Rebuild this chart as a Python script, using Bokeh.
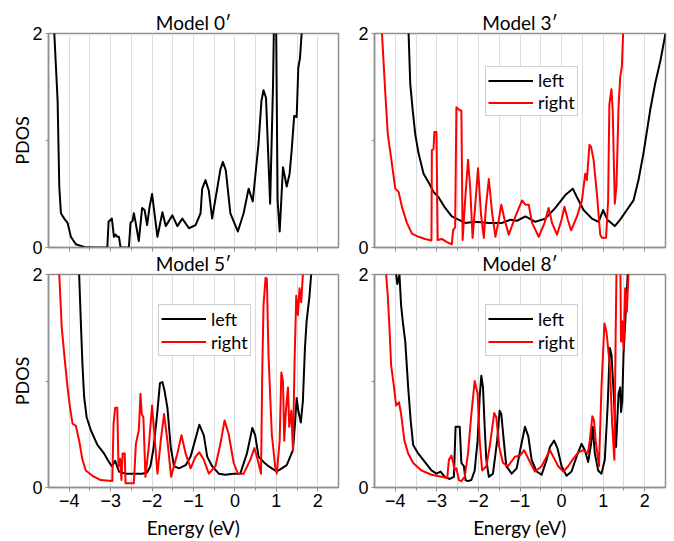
from bokeh.plotting import figure
from bokeh.layouts import column, row
from bokeh.models import FixedTicker, Legend, LegendItem, Range1d
from bokeh.embed import file_html
from bokeh.resources import INLINE

# ---------------- data (Energy in eV, PDOS) ----------------
x_major = [-4, -3, -2, -1, 0, 1, 2]
x_minor = [-3.5, -2.5, -1.5, -0.5, 0.5, 1.5]
grid_ticks = [-4, -3.5, -3, -2.5, -2, -1.5, -1, -0.5, 0, 0.5, 1, 1.5, 2]
y_major = [0, 2]
y_minor = [1]

titles = ["Model 0\u2032", "Model 3\u2032", "Model 5\u2032", "Model 8\u2032"]
series_labels = ["left", "right"]

m0_left_e = [-4.45, -4.36, -4.28, -4.24, -4.20, -4.12, -4.04, -3.96, -3.84, -3.64,
             -3.40, -3.08, -3.05, -3.00, -2.97, -2.92, -2.88, -2.84, -2.80, -2.76,
             -2.56, -2.52, -2.47, -2.44, -2.40, -2.32, -2.24, -2.18, -2.12, -2.06,
             -2.00, -1.87, -1.75, -1.67, -1.51, -1.39, -1.27, -1.11, -0.95, -0.83,
             -0.79, -0.71, -0.63, -0.55, -0.35, -0.29, -0.22, -0.11, 0.07, 0.21,
             0.33, 0.43, 0.57, 0.64, 0.69, 0.75, 0.85, 0.92, 0.95, 0.99,
             1.03, 1.08, 1.16, 1.19, 1.25, 1.32, 1.37, 1.43, 1.49, 1.53,
             1.57, 1.61, 1.65]
m0_left_pdos = [2.5, 2.0, 1.37, 0.57, 0.32, 0.27, 0.23, 0.10, 0.03, 0.005,
                0.0, 0.0, 0.24, 0.26, 0.27, 0.10, 0.12, 0.10, 0.10, 0.0,
                0.0, 0.23, 0.25, 0.32, 0.24, 0.06, 0.37, 0.35, 0.21, 0.38,
                0.50, 0.10, 0.33, 0.20, 0.30, 0.20, 0.27, 0.18, 0.21, 0.32,
                0.55, 0.63, 0.53, 0.27, 0.73, 0.80, 0.72, 0.32, 0.15, 0.32,
                0.55, 0.43, 0.97, 1.37, 1.47, 1.40, 0.41, 1.53, 2.3, 2.3,
                0.44, 0.15, 0.75, 0.69, 0.57, 0.69, 0.91, 1.23, 1.22, 1.68,
                1.77, 2.0, 2.4]

m3_left_e = [-3.72, -3.68, -3.64, -3.58, -3.52, -3.44, -3.32, -3.20, -3.08, -2.96,
             -2.80, -2.64, -2.48, -2.32, -2.08, -1.75, -1.43, -1.23, -1.07, -0.87,
             -0.63, -0.39, -0.15, 0.09, 0.27, 0.37, 0.53, 0.73, 0.89, 1.00,
             1.10, 1.28, 1.41, 1.57, 1.73, 1.85, 1.97, 2.13, 2.25, 2.38, 2.50]
m3_left_pdos = [2.4, 2.0, 1.53, 1.28, 1.06, 0.88, 0.69, 0.61, 0.52, 0.47,
                0.37, 0.29, 0.26, 0.23, 0.24, 0.23, 0.23, 0.26, 0.25, 0.29,
                0.24, 0.27, 0.37, 0.49, 0.55, 0.47, 0.35, 0.27, 0.24, 0.35,
                0.26, 0.20, 0.26, 0.35, 0.44, 0.63, 0.88, 1.28, 1.53, 1.75, 2.0]
m3_right_e = [-4.40, -4.32, -4.24, -4.18, -4.08, -4.00, -3.92, -3.84, -3.72, -3.60,
              -3.44, -3.28, -3.13, -3.12, -3.08, -3.06, -3.01, -2.98, -2.88, -2.76,
              -2.64, -2.61, -2.56, -2.53, -2.50, -2.44, -2.41, -2.38, -2.32, -2.25,
              -2.20, -2.14, -2.08, -2.01, -1.94, -1.87, -1.82, -1.75, -1.67, -1.59,
              -1.51, -1.45, -1.37, -1.27, -1.11, -0.95, -0.87, -0.79, -0.71, -0.55,
              -0.41, -0.31, -0.23, -0.11, 0.00, 0.07, 0.15, 0.23, 0.37, 0.49,
              0.57, 0.61, 0.67, 0.71, 0.77, 0.81, 0.85, 0.93, 0.97, 1.07,
              1.12, 1.15, 1.20, 1.23, 1.28, 1.32, 1.37, 1.41, 1.45, 1.48, 1.52]
m3_right_pdos = [2.4, 2.0, 1.44, 1.06, 0.78, 0.55, 0.52, 0.38, 0.23, 0.13,
                 0.10, 0.08, 0.065, 0.91, 0.92, 1.08, 1.08, 0.07, 0.08, 0.05,
                 0.03, 0.16, 0.19, 1.31, 1.30, 1.28, 1.28, 0.07, 0.44, 0.82,
                 0.57, 0.09, 0.38, 0.74, 0.32, 0.09, 0.38, 0.64, 0.32, 0.10,
                 0.26, 0.40, 0.26, 0.12, 0.29, 0.44, 0.40, 0.40, 0.23, 0.10,
                 0.23, 0.37, 0.23, 0.12, 0.26, 0.38, 0.26, 0.16, 0.29, 0.44,
                 0.69, 0.63, 0.96, 0.94, 0.82, 0.66, 0.50, 0.12, 0.09, 0.09,
                 0.44, 1.34, 1.48, 1.28, 0.41, 0.57, 1.31, 1.59, 1.69, 2.0, 2.4]

m5_left_e = [-3.80, -3.76, -3.72, -3.68, -3.64, -3.58, -3.48, -3.32, -3.16, -3.04,
             -2.97, -2.89, -2.80, -2.64, -2.44, -2.24, -2.12, -2.04, -1.96, -1.87,
             -1.81, -1.75, -1.70, -1.63, -1.55, -1.47, -1.35, -1.19, -1.07, -0.95,
             -0.86, -0.75, -0.67, -0.55, -0.39, -0.23, -0.03, 0.13, 0.29, 0.42,
             0.49, 0.57, 0.69, 0.81, 0.93, 1.01, 1.13, 1.25, 1.40, 1.45,
             1.49, 1.53, 1.59, 1.64, 1.69, 1.73, 1.80, 1.84, 1.88]
m5_left_pdos = [2.4, 2.0, 1.56, 1.15, 0.85, 0.66, 0.54, 0.40, 0.32, 0.24,
                0.20, 0.25, 0.15, 0.13, 0.13, 0.13, 0.14, 0.20, 0.38, 0.72,
                0.98, 0.99, 0.91, 0.75, 0.38, 0.20, 0.18, 0.21, 0.29, 0.46,
                0.59, 0.49, 0.29, 0.20, 0.13, 0.12, 0.13, 0.13, 0.32, 0.56,
                0.49, 0.29, 0.24, 0.20, 0.17, 0.15, 0.18, 0.21, 0.35, 0.60,
                0.84, 0.72, 0.61, 0.81, 1.31, 1.56, 1.80, 2.0, 2.4]
m5_right_e = [-4.28, -4.24, -4.18, -4.12, -4.04, -3.98, -3.92, -3.84, -3.76, -3.68,
              -3.60, -3.44, -3.24, -2.96, -2.93, -2.89, -2.84, -2.81, -2.77, -2.74,
              -2.71, -2.66, -2.64, -2.44, -2.39, -2.32, -2.28, -2.25, -2.21, -2.16,
              -2.08, -2.00, -1.94, -1.87, -1.79, -1.71, -1.63, -1.54, -1.39, -1.29,
              -1.19, -1.07, -0.95, -0.86, -0.75, -0.63, -0.47, -0.35, -0.25, -0.15,
              -0.03, 0.07, 0.21, 0.37, 0.47, 0.55, 0.63, 0.66, 0.69, 0.74,
              0.77, 0.81, 0.89, 0.97, 1.01, 1.08, 1.12, 1.16, 1.19, 1.23,
              1.28, 1.31, 1.36, 1.40, 1.44, 1.48, 1.52, 1.56, 1.60, 1.64, 1.68]
m5_right_pdos = [2.4, 2.0, 1.50, 1.25, 0.94, 0.75, 0.60, 0.58, 0.44, 0.26,
                 0.16, 0.11, 0.07, 0.06, 0.60, 0.75, 0.75, 0.20, 0.27, 0.07,
                 0.32, 0.32, 0.04, 0.04, 0.41, 0.54, 0.88, 0.69, 0.66, 0.10,
                 0.38, 0.77, 0.48, 0.13, 0.44, 0.69, 0.44, 0.10, 0.32, 0.49,
                 0.32, 0.18, 0.29, 0.33, 0.26, 0.13, 0.20, 0.41, 0.63, 0.50,
                 0.23, 0.13, 0.13, 0.26, 0.37, 0.26, 0.13, 1.09, 1.71, 1.97,
                 1.96, 1.25, 0.50, 0.20, 0.13, 0.44, 1.08, 1.00, 0.44, 0.72,
                 0.94, 0.57, 0.72, 0.35, 1.19, 1.80, 1.62, 1.87, 1.74, 2.0, 2.4]

m8_left_e = [-4.02, -3.98, -3.95, -3.90, -3.86, -3.82, -3.76, -3.69, -3.63, -3.57,
             -3.45, -3.29, -3.13, -3.01, -2.91, -2.81, -2.69, -2.59, -2.55, -2.51,
             -2.45, -2.41, -2.35, -2.31, -2.25, -2.17, -2.09, -2.02, -1.97, -1.93,
             -1.89, -1.85, -1.81, -1.75, -1.65, -1.55, -1.49, -1.45, -1.39, -1.33,
             -1.20, -1.08, -0.98, -0.88, -0.80, -0.72, -0.60, -0.48, -0.36, -0.28,
             -0.18, -0.10, 0.00, 0.12, 0.24, 0.36, 0.48, 0.56, 0.64, 0.71,
             0.75, 0.80, 0.88, 0.96, 1.04, 1.11, 1.16, 1.20, 1.26, 1.31,
             1.37, 1.41, 1.43, 1.46, 1.49, 1.54, 1.59, 1.63]
m8_left_pdos = [2.4, 2.0, 1.91, 2.0, 1.71, 1.56, 1.37, 0.94, 0.63, 0.40,
                0.32, 0.24, 0.16, 0.13, 0.15, 0.10, 0.08, 0.10, 0.57, 0.57,
                0.57, 0.23, 0.20, 0.07, 0.06, 0.07, 0.16, 0.44, 0.85, 1.05,
                0.94, 0.57, 0.26, 0.10, 0.13, 0.44, 0.72, 0.69, 0.44, 0.20,
                0.13, 0.18, 0.38, 0.57, 0.48, 0.26, 0.15, 0.12, 0.26, 0.38,
                0.44, 0.37, 0.20, 0.11, 0.15, 0.29, 0.41, 0.35, 0.24, 0.41,
                0.57, 0.32, 0.16, 0.13, 0.26, 0.78, 1.31, 1.25, 0.84, 0.38,
                0.88, 0.94, 0.71, 0.81, 1.25, 1.62, 2.0, 2.4]
m8_right_e = [-4.26, -4.22, -4.18, -4.14, -4.10, -4.03, -3.98, -3.91, -3.86, -3.78,
              -3.69, -3.57, -3.37, -3.13, -2.89, -2.75, -2.71, -2.65, -2.61, -2.57,
              -2.53, -2.47, -2.41, -2.33, -2.25, -2.17, -2.09, -2.02, -1.97, -1.91,
              -1.81, -1.73, -1.62, -1.57, -1.50, -1.41, -1.29, -1.12, -1.00, -0.90,
              -0.80, -0.64, -0.48, -0.36, -0.28, -0.20, -0.08, 0.04, 0.16, 0.28,
              0.40, 0.52, 0.63, 0.68, 0.74, 0.78, 0.82, 0.90, 0.96, 1.03,
              1.08, 1.16, 1.22, 1.27, 1.30, 1.33, 1.37, 1.41, 1.43, 1.46,
              1.49, 1.53, 1.57, 1.61, 1.65]
m8_right_pdos = [2.4, 2.0, 1.80, 1.50, 1.15, 0.94, 0.77, 0.80, 0.69, 0.44,
                 0.32, 0.23, 0.16, 0.12, 0.10, 0.09, 0.26, 0.30, 0.24, 0.16,
                 0.18, 0.07, 0.06, 0.10, 0.32, 0.69, 1.00, 0.88, 0.44, 0.16,
                 0.20, 0.38, 0.70, 0.66, 0.38, 0.23, 0.20, 0.29, 0.30, 0.35,
                 0.27, 0.15, 0.20, 0.29, 0.35, 0.29, 0.20, 0.15, 0.20, 0.27,
                 0.33, 0.35, 0.32, 0.44, 0.67, 0.63, 0.44, 0.20, 0.94, 1.54,
                 1.46, 1.15, 0.57, 0.26, 1.40, 2.3, 2.3, 2.3, 1.37, 1.56,
                 1.30, 1.87, 1.65, 2.0, 2.4]

# ---------------- styling ----------------
GREY = "#8f8f8f"
GRID = "#dcdcdc"
TICK_FONT = "Liberation Sans"
TEXT_FONT = "Lato"
BLACK = "#000000"
RED = "#ff0000"


def make_panel(title, width, height, mb_left, mb_right, mb_top, mb_bottom,
               xlabels, ylabel):
    p = figure(width=width, height=height, title=title,
               x_range=Range1d(-4.5, 2.5), y_range=Range1d(0, 2),
               output_backend="svg", toolbar_location=None,
               min_border_left=mb_left, min_border_right=mb_right,
               min_border_top=mb_top, min_border_bottom=mb_bottom)
    p.background_fill_color = "white"
    p.border_fill_color = "white"
    p.border_fill_alpha = 0.0
    p.outline_line_color = GREY
    p.outline_line_width = 1.5

    p.title.align = "center"
    p.title.text_font = TEXT_FONT
    p.title.text_font_size = "19px"
    p.title.text_font_style = "normal"
    p.title.text_color = "black"
    p.title.standoff = 0
    p.title.offset = 0

    xa = p.xaxis[0]
    xa.ticker = FixedTicker(ticks=x_major, minor_ticks=x_minor)
    xa.axis_line_color = GREY
    xa.axis_line_width = 1.5
    xa.major_tick_line_color = GREY
    xa.minor_tick_line_color = GREY
    xa.major_tick_in = 0
    xa.major_tick_out = 4
    xa.minor_tick_in = 0
    xa.minor_tick_out = 3
    xa.major_label_text_font = TICK_FONT
    xa.major_label_text_color = "black"
    xa.major_label_text_font_size = "18px"
    if xlabels:
        xa.major_label_standoff = 2
        xa.major_label_text_line_height = 1.0
        xa.axis_label = "Energy (eV)"
        xa.axis_label_text_font = TEXT_FONT
        xa.axis_label_text_font_size = "19px"
        xa.axis_label_text_font_style = "normal"
        xa.axis_label_text_color = "black"
        xa.axis_label_standoff = 6
        xa.axis_label_text_line_height = 1.0
    else:
        xa.major_label_standoff = 0
        xa.major_label_overrides = {t: "" for t in x_major}

    ya = p.yaxis[0]
    ya.ticker = FixedTicker(ticks=y_major, minor_ticks=y_minor)
    ya.axis_line_color = GREY
    ya.axis_line_width = 1.5
    ya.major_tick_line_color = GREY
    ya.minor_tick_line_color = GREY
    ya.major_tick_in = 0
    ya.major_tick_out = 3
    ya.minor_tick_in = 0
    ya.minor_tick_out = 3
    ya.major_label_text_font = TICK_FONT
    ya.major_label_text_font_size = "18px"
    ya.major_label_text_color = "black"
    ya.major_label_standoff = 3
    if ylabel:
        ya.axis_label = "PDOS"
        ya.axis_label_text_font = TEXT_FONT
        ya.axis_label_text_font_size = "18px"
        ya.axis_label_text_font_style = "normal"
        ya.axis_label_text_color = "black"
        ya.axis_label_standoff = -4
        ya.axis_label_text_line_height = 1.0

    p.ygrid.visible = False
    p.xgrid.ticker = FixedTicker(ticks=grid_ticks)
    p.xgrid.grid_line_color = GRID
    p.xgrid.grid_line_width = 1
    return p


def add_series(p, e, pdos, color):
    n = min(len(e), len(pdos))
    return p.line(e[:n], pdos[:n], line_color=color, line_width=2.0,
                  line_join="round")


def add_legend(p, r_left, r_right, loc, row_h):
    leg = Legend(items=[LegendItem(label=series_labels[0], renderers=[r_left]),
                        LegendItem(label=series_labels[1], renderers=[r_right])],
                 location=loc, orientation="vertical",
                 glyph_width=45, glyph_height=row_h, label_height=row_h,
                 label_standoff=5, padding=2, spacing=0, margin=0,
                 label_text_font=TEXT_FONT, label_text_font_size="18px",
                 label_text_color="black",
                 border_line_color="#a0a0a0", border_line_width=1,
                 background_fill_color="white", background_fill_alpha=1.0)
    p.add_layout(leg)


# layout geometry (Bokeh's page template has no body margin)
LW, RW = 344, 327
TH, BH = 257, 294
OVERLAP = 10

p0 = make_panel(titles[0], LW, TH, 48, 6, 33, 10, False, True)
add_series(p0, m0_left_e, m0_left_pdos, BLACK)

p3 = make_panel(titles[1], RW, TH, 30, 6, 33, 10, False, False)
a = add_series(p3, m3_left_e, m3_left_pdos, BLACK)
b = add_series(p3, m3_right_e, m3_right_pdos, RED)
add_legend(p3, a, b, (111, 131), 19)

p5 = make_panel(titles[2], LW, BH, 48, 6, 27, 52, True, True)
a = add_series(p5, m5_left_e, m5_left_pdos, BLACK)
b = add_series(p5, m5_right_e, m5_right_pdos, RED)
add_legend(p5, a, b, (110, 131), 23)

p8 = make_panel(titles[3], RW, BH, 30, 6, 27, 52, True, False)
a = add_series(p8, m8_left_e, m8_left_pdos, BLACK)
b = add_series(p8, m8_right_e, m8_right_pdos, RED)
add_legend(p8, a, b, (111, 131), 23)

top_row = row(p0, p3)
bottom_row = row(p5, p8)
bottom_row.margin = (-OVERLAP, 0, 0, 0)
layout = column(top_row, bottom_row)

with open("out.html", "w") as f:
    f.write(file_html(layout, INLINE))
